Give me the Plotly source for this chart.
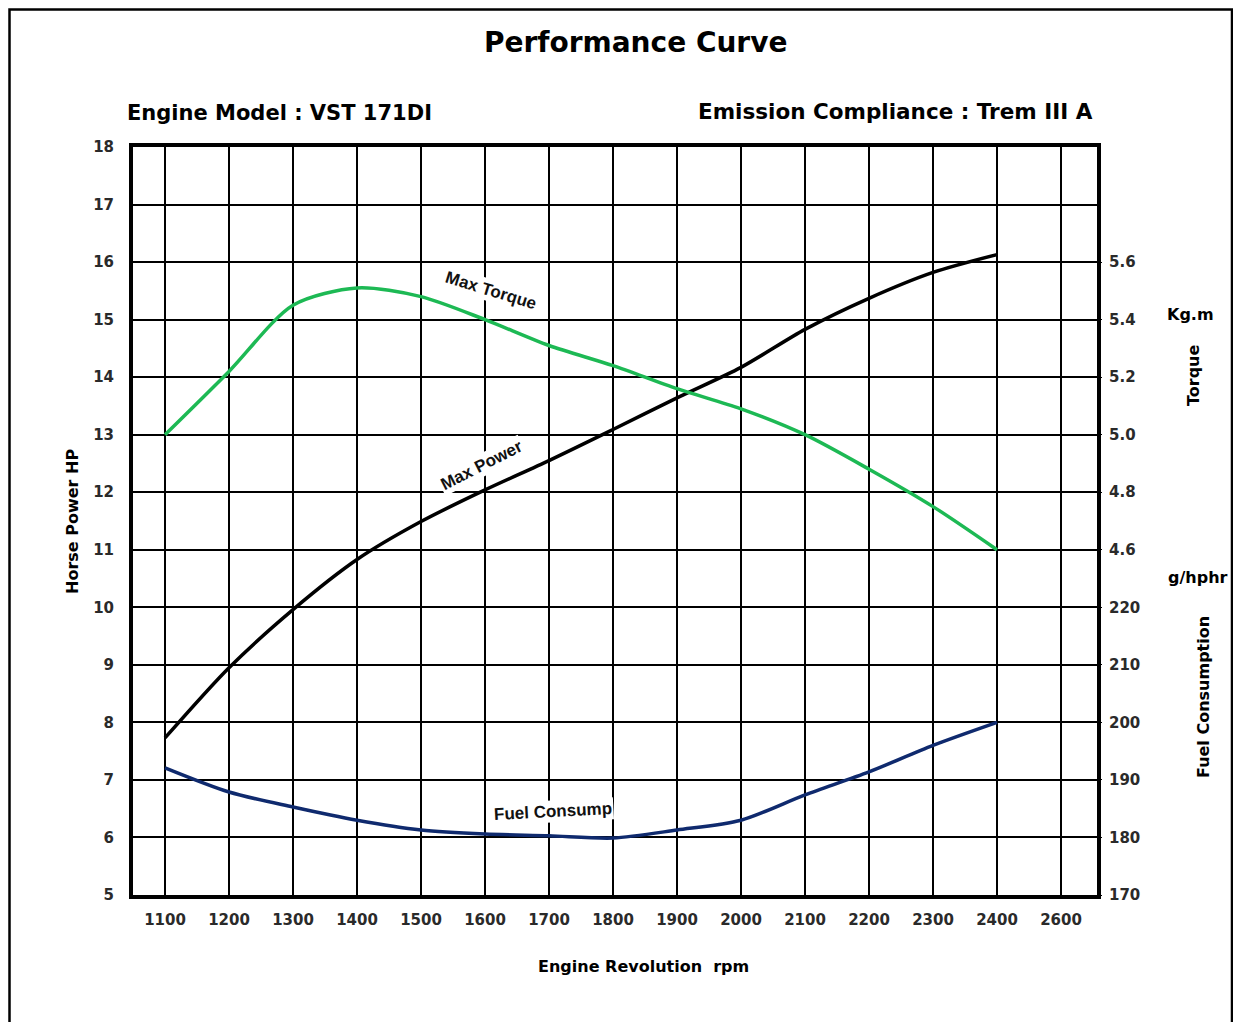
import plotly.graph_objects as go

# ---- data ----
rpm = [1100, 1200, 1300, 1400, 1500, 1600, 1700, 1800, 1900, 2000, 2100, 2200, 2300, 2400]
max_power_hp = [7.73, 8.95, 9.96, 10.83, 11.49, 12.04, 12.55, 13.09, 13.64, 14.17, 14.83, 15.37, 15.82, 16.13]
max_torque_kgm = [5.00, 5.22, 5.45, 5.51, 5.48, 5.40, 5.31, 5.24, 5.16, 5.09, 5.00, 4.88, 4.75, 4.60]
fuel_g_hphr = [192.1, 187.9, 185.3, 183.0, 181.3, 180.6, 180.3, 179.9, 181.3, 183.0, 187.4, 191.4, 196.0, 200.0]

rpm_tick_vals = [1100, 1200, 1300, 1400, 1500, 1600, 1700, 1800, 1900, 2000, 2100, 2200, 2300, 2400, 2500]
rpm_tick_text = ["1100", "1200", "1300", "1400", "1500", "1600", "1700", "1800", "1900", "2000",
                 "2100", "2200", "2300", "2400", "2600"]
hp_ticks = list(range(5, 19))
torque_ticks = [4.6, 4.8, 5.0, 5.2, 5.4, 5.6]
fuel_ticks = [170, 180, 190, 200, 210, 220]

# page has an 8px body margin; work in page coordinates and shift
OFF = 8
W, H = 1241 - OFF, 1030 - 2 * OFF
L, R, T, B = 133, 1097, 147, 895  # plot area in page pixels


def px(x):
    return (x - L) / (R - L)


def py(y):
    return (B - y) / (B - T)


BOLD = "DejaVu Sans"
tick_font = dict(family=BOLD, size=15, color="#2a2a2a", weight="bold")

fig = go.Figure()
fig.add_trace(go.Scatter(x=rpm, y=max_torque_kgm, yaxis="y2", mode="lines",
                         line=dict(color="#1DB954", width=3.5, shape="spline", smoothing=0.8),
                         name="Max Torque"))
fig.add_trace(go.Scatter(x=rpm, y=max_power_hp, yaxis="y", mode="lines",
                         line=dict(color="#000000", width=3.5, shape="spline", smoothing=0.8),
                         name="Max Power"))
fig.add_trace(go.Scatter(x=rpm, y=fuel_g_hphr, yaxis="y3", mode="lines",
                         line=dict(color="#0F2A6E", width=3.5, shape="spline", smoothing=0.8),
                         name="Fuel Consump"))


def panno(text, x, y, size, xanchor="center", angle=0):
    return dict(text=text, x=px(x), y=py(y), xref="paper", yref="paper", xanchor=xanchor,
                yanchor="middle", textangle=angle, showarrow=False,
                font=dict(family=BOLD, size=size, color="#000"))


annos = [
    panno("<b>Performance Curve</b>", 635, 42, 28),
    panno("<b>Engine Model : VST 171DI</b>", 125, 113, 21, xanchor="left"),
    panno("<b>Emission Compliance : Trem III A</b>", 1095, 112, 21.5, xanchor="right"),
    panno("<b>Horse Power HP</b>", 72, 522, 16, angle=-90),
    panno("<b>Engine Revolution&nbsp; rpm</b>", 643, 966, 16),
    panno("<b>Kg.m</b>", 1190, 314, 16),
    panno("<b>Torque</b>", 1193, 375, 16, angle=-90),
    panno("<b>g/hphr</b>", 1198, 577, 16),
    panno("<b>Fuel Consumption</b>", 1203, 697, 16, angle=-90),
]

label_font = dict(family="Liberation Sans Narrow, Liberation Sans", size=17, color="#111")
annos.append(dict(text="<b>Max Torque</b>", x=1609, y=15.51, xref="x", yref="y", textangle=17,
                  showarrow=False, bgcolor="white", font=label_font))
annos.append(dict(text="<b>Max Power</b>", x=1594, y=12.47, xref="x", yref="y", textangle=-27,
                  showarrow=False, bgcolor="white", font=label_font))
annos.append(dict(text="<b>Fuel Consump</b>", x=1706, y=6.45, xref="x", yref="y", textangle=-3,
                  showarrow=False, bgcolor="white", font=label_font))

shapes = [dict(type="rect", xref="paper", yref="paper", x0=px(9.5), x1=px(1232), y0=py(1045), y1=py(9.5),
               line=dict(color="#000", width=2.5), layer="below")]

fig.update_layout(
    width=W, height=H,
    margin=dict(l=L - OFF, r=W - (R - OFF), t=T - OFF, b=H - (B - OFF)),
    paper_bgcolor="white", plot_bgcolor="white",
    showlegend=False,
    xaxis=dict(range=[1050, 2556.25], tickvals=rpm_tick_vals, ticktext=rpm_tick_text,
               showgrid=True, gridcolor="#000", gridwidth=1.5, zeroline=False,
               showline=True, linecolor="#000", linewidth=4, mirror=True,
               ticks="", tickfont=tick_font, ticklabelstandoff=8),
    yaxis=dict(range=[5, 18], tickvals=hp_ticks, showgrid=True, gridcolor="#000", gridwidth=1.5,
               zeroline=False, showline=True, linecolor="#000", linewidth=4, mirror=True,
               ticks="", tickfont=tick_font, ticklabelstandoff=12),
    yaxis2=dict(range=[3.4, 6.0], tickvals=torque_ticks, ticktext=[f"{v:.1f}" for v in torque_ticks],
                overlaying="y", side="right", showgrid=False, zeroline=False, showline=False,
                ticks="outside", ticklen=4, tickcolor="#000", tickfont=tick_font, ticklabelstandoff=4),
    yaxis3=dict(range=[170, 300], tickvals=fuel_ticks, overlaying="y", side="right",
                showgrid=False, zeroline=False, showline=False,
                ticks="outside", ticklen=4, tickcolor="#000", tickfont=tick_font, ticklabelstandoff=4),
    annotations=annos,
    shapes=shapes,
)

fig.write_html("out.html")
